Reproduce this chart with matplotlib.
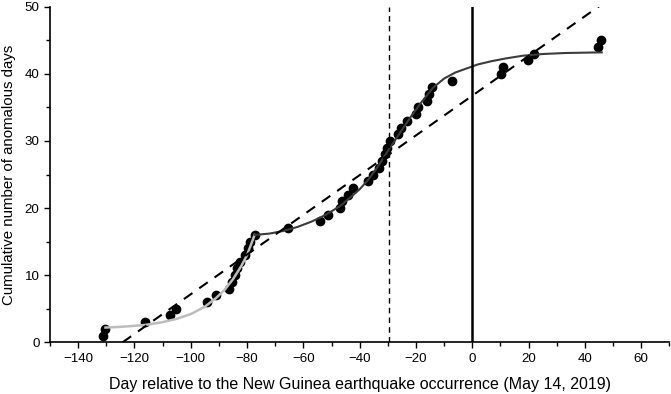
import matplotlib
matplotlib.use("Agg")
import matplotlib.pyplot as plt
from matplotlib.ticker import MultipleLocator

plt.rcParams['font.family'] = ['Liberation Sans', 'DejaVu Sans']

# anomalous days (day relative to the event, cumulative count)
days = [-131.1, -130.3, -116.2, -107.2, -105.2, -94.2, -91.2, -86.3, -85.4, -84.4,
        -83.6, -82.4, -80.9, -79.7, -78.9, -77.3, -65.5, -54.2, -51.2, -47.1,
        -46.3, -44.1, -42.3, -37.0, -35.2, -33.2, -32.2, -31.1, -30.2, -29.3,
        -26.3, -25.4, -23.3, -20.1, -19.3, -16.2, -15.4, -14.2, -7.1, 10.1,
        10.8, 19.9, 22.0, 44.8, 45.8]
counts = list(range(1, 46))

# early-stage fit (light grey)
early_x = [-130.3, -125, -120, -116, -110, -105, -100, -95, -91, -88, -85, -82, -80, -77.3]
early_y = [2.2, 2.3, 2.45, 2.6, 3.0, 3.5, 4.2, 5.3, 6.6, 7.8, 9.4, 11.4, 13.0, 16.0]

# late-stage fit (dark grey)
late_x = [-77.3, -72, -67, -62, -57, -52, -47, -43, -40, -37, -34, -30, -26, -22,
          -18, -14, -10, -6, -2, 2, 7, 12, 18, 25, 33, 46]
late_y = [16.0, 16.2, 16.6, 17.2, 18.0, 19.0, 20.3, 21.7, 22.8, 24.2, 25.9, 28.5,
          31.0, 33.5, 35.8, 37.9, 39.3, 40.2, 40.8, 41.4, 41.9, 42.3, 42.7, 42.95,
          43.1, 43.2]

# linear fit over all points (dashed)
lin_x = [-124.2, 45.5]
lin_y = [0, 50.2]

t_dashed = -29.5   # vertical dashed marker
t_event = 0        # earthquake day

fig = plt.figure(figsize=(6.71, 3.94), dpi=100)
ax = fig.add_axes([0.0745, 0.1312, 0.923, 0.8518])

ax.plot(days, counts, 'o', color='black', markersize=6, zorder=2)
ax.plot(early_x, early_y, color='#bdbdbd', lw=1.8, zorder=3)
ax.plot(late_x, late_y, color='#3c3c3c', lw=1.5, zorder=3)
ax.plot(lin_x, lin_y, color='black', lw=1.5, dashes=(5, 4), zorder=3)
ax.axvline(t_dashed, color='black', lw=1.0, dashes=(4, 3), zorder=3)
ax.axvline(t_event, color='black', lw=1.8, zorder=3)

ax.set_xlim(-150, 70)
ax.set_ylim(0, 50)
ax.xaxis.set_major_locator(MultipleLocator(20))
ax.xaxis.set_minor_locator(MultipleLocator(10))
ax.yaxis.set_major_locator(MultipleLocator(10))
ax.yaxis.set_minor_locator(MultipleLocator(5))
ax.tick_params(which='major', direction='out', length=4, width=1, labelsize=9.6, colors='black')
ax.tick_params(which='minor', direction='out', length=3, width=1)
for s in ['top', 'right']:
    ax.spines[s].set_visible(False)
for s in ['left', 'bottom']:
    ax.spines[s].set_linewidth(1.2)

ax.set_xlabel('Day relative to the New Guinea earthquake occurrence (May 14, 2019)', fontsize=11.5, labelpad=9)
ax.set_ylabel('Cumulative number of anomalous days', fontsize=10.8, labelpad=6)

fig.savefig('out.png', dpi=100)
